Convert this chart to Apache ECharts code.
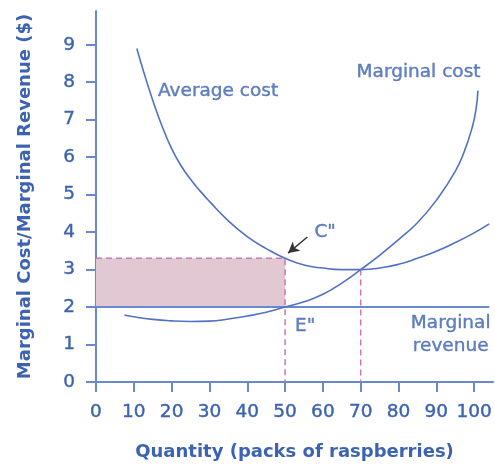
<!DOCTYPE html>
<html>
<head>
<meta charset="utf-8">
<script src="https://cdn.jsdelivr.net/npm/echarts@6/dist/echarts.min.js"></script>
<style>
  html, body { margin: 0; padding: 0; background: #ffffff; }
  #chart { width: 495px; height: 466px; }
</style>
</head>
<body>
<div id="chart"></div>
<script>
// Tick values on each axis
const xTicks = [0, 10, 20, 30, 40, 50, 60, 70, 80, 90, 100];
const yTicks = [0, 1, 2, 3, 4, 5, 6, 7, 8, 9];

// Cost curves: [quantity, dollars]
const averageCost = [
  [10.8, 8.9], [12.5, 8.31], [15, 7.52], [17.5, 6.82], [20, 6.23],
  [22.5, 5.77], [25, 5.41], [27.5, 5.1], [30, 4.82], [35, 4.3], [40, 3.88],
  [45, 3.56], [50, 3.3], [55, 3.12], [60, 3.04], [65, 3.0], [70, 3.0],
  [75, 3.04], [80, 3.14], [85, 3.3], [90, 3.49], [95, 3.72], [100, 3.98],
  [104, 4.22]
];
const marginalCost = [
  [7.5, 1.79], [10, 1.74], [15, 1.67], [20, 1.63], [25, 1.615], [30, 1.625],
  [35, 1.68], [40, 1.76], [45, 1.86], [50, 2.0], [55, 2.14], [60, 2.34],
  [65, 2.64], [70, 3.0], [75, 3.38], [80, 3.8], [85, 4.25], [90, 4.85],
  [95, 5.62], [97.5, 6.18], [99.5, 6.8], [100.5, 7.28], [101, 7.78]
];
// Price / marginal revenue line
const marginalRevenue = [[0, 2], [104, 2]];

// Points of interest
const outputChosen = 50;      // where MR = MC (E")
const avgCostAtOutput = 3.3;  // average cost at that output (C")
const minAvgOutput = 70;      // where MC crosses AC
const minAvgCost = 3.0;

const TEXT = '#3c62b2';
const AXIS = '#6a88ce';
const CURVE = '#5271c3';
const DASH = '#c978b0';
const FILL = '#e2c8d2';
const FONT = 'DejaVu Sans';

const chart = echarts.init(document.getElementById('chart'), null, { renderer: 'canvas' });

const plainText = {
  color: TEXT, fontFamily: FONT, fontSize: 18.5,
  textBorderColor: TEXT, textBorderWidth: 0.4
};

const axisCommon = {
  axisLine: { show: true, lineStyle: { color: AXIS, width: 2 } },
  axisTick: { show: true, inside: false, length: 10, lineStyle: { color: AXIS, width: 2 } },
  axisLabel: Object.assign({ margin: 21 }, plainText),
  splitLine: { show: false },
  nameTextStyle: { color: TEXT, fontFamily: FONT, fontSize: 18, fontWeight: 'bold' }
};

chart.setOption({
  animation: false,
  backgroundColor: '#ffffff',
  grid: { left: 96, right: 0, top: 11, bottom: 82 },
  xAxis: Object.assign({}, axisCommon, {
    type: 'value', min: 0, max: 105,
    name: 'Quantity (packs of raspberries)',
    nameLocation: 'middle', nameGap: 61,
    axisTick: Object.assign({}, axisCommon.axisTick, { customValues: xTicks }),
    axisLabel: Object.assign({}, axisCommon.axisLabel, { customValues: xTicks })
  }),
  yAxis: Object.assign({}, axisCommon, {
    type: 'value', min: 0, max: 9.9,
    name: 'Marginal Cost/Marginal Revenue ($)',
    nameLocation: 'middle', nameGap: 62, nameRotate: 90,
    axisTick: Object.assign({}, axisCommon.axisTick, { customValues: yTicks }),
    axisLabel: Object.assign({}, axisCommon.axisLabel, { customValues: yTicks })
  }),
  series: [
    {
      // shaded loss rectangle and its dashed guides
      type: 'line', z: 1, symbol: 'none',
      data: [[0, avgCostAtOutput], [outputChosen, avgCostAtOutput], [outputChosen, 0]],
      lineStyle: { color: DASH, width: 1.5, type: [6, 4] },
      markArea: {
        silent: true,
        itemStyle: { color: FILL },
        data: [[{ coord: [0, marginalRevenue[0][1]] }, { coord: [outputChosen, avgCostAtOutput] }]]
      }
    },
    {
      type: 'line', z: 1, symbol: 'none',
      data: [[minAvgOutput, minAvgCost], [minAvgOutput, 0]],
      lineStyle: { color: DASH, width: 1.5, type: [6, 4] }
    },
    {
      name: 'Marginal revenue', type: 'line', z: 3, symbol: 'none',
      data: marginalRevenue,
      lineStyle: { color: AXIS, width: 2 }
    },
    {
      name: 'Average cost', type: 'line', z: 4, symbol: 'none', smooth: 0.5,
      data: averageCost,
      lineStyle: { color: CURVE, width: 1.6 }
    },
    {
      name: 'Marginal cost', type: 'line', z: 4, symbol: 'none', smooth: 0.5,
      data: marginalCost,
      lineStyle: { color: CURVE, width: 1.6 }
    },
    {
      // pointer to C"
      type: 'line', z: 5, data: [],
      markLine: {
        silent: true, animation: false,
        symbol: ['none', 'arrow'], symbolSize: [9, 11],
        lineStyle: { color: '#333333', width: 1.5, type: 'solid' },
        label: { show: false },
        data: [[{ coord: [55.9, 3.87] }, { coord: [50.8, 3.44] }]]
      }
    },
    {
      // text annotations
      type: 'scatter', z: 6, symbolSize: 0, silent: true,
      label: Object.assign({ show: true, position: 'inside', formatter: '{b}' }, plainText),
      data: [
        { name: 'Average cost', value: [16.4, 7.75], label: { align: 'left' } },
        { name: 'Marginal cost', value: [85.3, 8.28] },
        { name: 'C"', value: [60.6, 3.99] },
        { name: 'E"', value: [55.3, 1.49] },
        { name: 'Marginal\nrevenue', value: [93.8, 1.27], label: { lineHeight: 23 } }
      ]
    }
  ]
});
</script>
</body>
</html>
